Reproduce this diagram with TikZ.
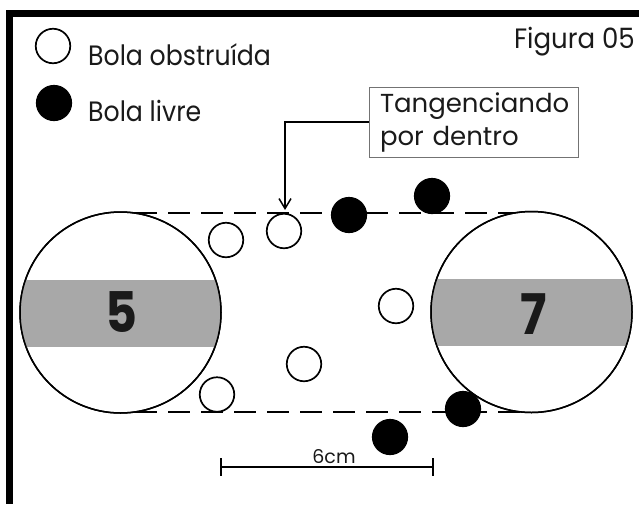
\documentclass[tikz,border=0pt]{standalone}
\usepackage{fontspec}
\setmainfont{Poppins}
\usetikzlibrary{arrows.meta}
\definecolor{bandgray}{HTML}{A8A8A8}
\definecolor{txt}{HTML}{1A1A1A}
\newcommand{\narrow}[2]{\scalebox{#1}[1]{#2}}
\begin{document}
\begin{tikzpicture}[x=1pt,y=-1pt,
  ball/.style={circle, draw=black, line width=1.7pt, minimum size=34.5pt, inner sep=0pt, fill=white},
  freeball/.style={ball, fill=black},
  bigcirc/.style={circle, draw=black, line width=1.5pt, minimum size=201pt, inner sep=0pt},
  dashline/.style={line width=2.6pt, dash pattern=on 22pt off 11pt},
  label/.style={font=\fontsize{28}{28}\selectfont, text=txt, inner sep=0pt},
  numtext/.style={font=\fontsize{56}{56}\selectfont\bfseries, text=txt, inner sep=0pt},
  notebox/.style={draw=black!55, line width=1pt, minimum width=209pt, minimum height=70pt, text width=187pt, align=left, inner sep=0pt, font=\fontsize{26}{33}\selectfont, text=txt},
  arrowline/.style={line width=1.5pt, -{Straight Barb[length=10pt,width=12pt,line width=1.5pt]}},
  barline/.style={line width=2pt}
]
\useasboundingbox (0,0) rectangle (639,504);
\fill[white] (0,0) rectangle (639,504);
% frame
\fill[black] (6,10) rectangle (13,504);
\fill[black] (6,10) rectangle (639,17);

% legend
\node[ball] (lg1) at (53,46) {};
\node[freeball] (lg2) at (54,103) {};
\node[label, anchor=base west] (lt1) at (88,65) {\narrow{0.9}{Bola obstruída}};
\node[label, anchor=base west] (lt2) at (88,121) {\narrow{0.9}{Bola livre}};
\node[label, anchor=base east] (fig) at (635,48) {\narrow{0.93}{Figura 05}};

% dashed tangent lines
\coordinate (tl) at (135,213);
\coordinate (tr) at (531,213);
\coordinate (bl) at (135,412);
\coordinate (br) at (531,412);
\draw[dashline] (tl) -- (tr);
\draw[dashline] (bl) -- (br);

% big circles
\node[bigcirc, fill=white] (c5) at (120.5,312.5) {};
\node[bigcirc, fill=white] (c7) at (531.5,312) {};
\begin{scope}
  \clip (120.5,312.5) circle (100.5);
  \fill[bandgray] (18,280) rectangle (223,347);
\end{scope}
\begin{scope}
  \clip (531.5,312) circle (100.5);
  \fill[bandgray] (429,279) rectangle (634,346);
\end{scope}
\draw[line width=1.5pt] (c5.center) circle (100.5);
\draw[line width=1.5pt] (c7.center) circle (100.5);
\node[numtext] (n5) at (121.5,312.5) {\narrow{0.88}{5}};
\node[numtext] (n7) at (533.5,314.5) {\narrow{0.88}{7}};

% balls
\node[ball] (o1) at (226,240) {};
\node[ball] (o2) at (284,231) {};
\node[ball] (o3) at (217,394.5) {};
\node[ball] (o4) at (304,364) {};
\node[ball] (o5) at (396,306) {};
\node[freeball] (f1) at (349,215) {};
\node[freeball] (f2) at (432,196) {};
\node[freeball] (f3) at (463,409) {};
\node[freeball] (f4) at (390,437) {};

% note box and arrow
\node[notebox] (box) at (473.5,122) {Tangenciando\\por dentro};
\coordinate (tip) at (285,210);
\draw[arrowline] (box.west) -| (tip);

% scale bar
\coordinate (s1) at (221,467);
\coordinate (s2) at (433,467);
\draw[barline] (s1) -- (s2);
\draw[barline] (221,458) -- (221,476);
\draw[barline] (433,458) -- (433,476);
\node[font=\fontsize{19}{19}\selectfont, text=txt, anchor=base, inner sep=0pt] (scl) at (334,463) {6cm};
\end{tikzpicture}
\end{document}
